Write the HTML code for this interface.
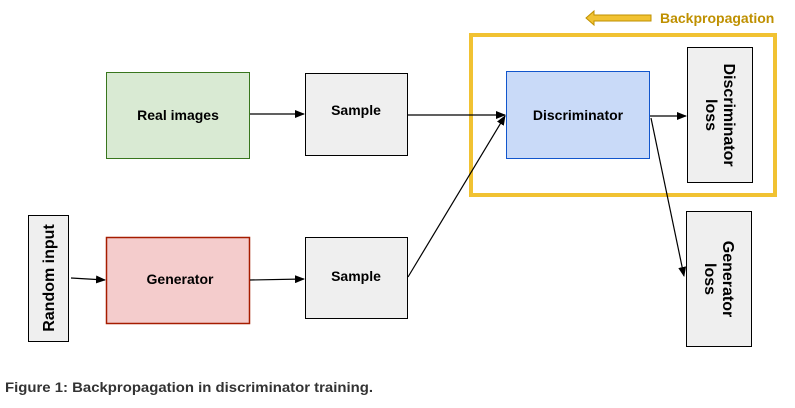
<!DOCTYPE html>
<html><head><style>
body{margin:0;width:795px;height:403px;background:#fff;overflow:hidden;font-family:"Liberation Sans",Arial,sans-serif}
</style></head><body>
<svg width="795" height="403" xmlns="http://www.w3.org/2000/svg" font-family="Liberation Sans, Arial, sans-serif" font-weight="bold">
<defs><marker id="a" markerWidth="10" markerHeight="8" refX="9" refY="4" orient="auto" markerUnits="userSpaceOnUse"><path d="M0,0 L10,4 L0,8 z" fill="#000"/></marker></defs>
<rect x="471" y="35" width="304" height="160" fill="none" stroke="#f1c232" stroke-width="4"/>
<path d="M586,18 L594,11 L594,15 L651,15 L651,21 L594,21 L594,25 z" fill="#f1c232" stroke="#bf9000" stroke-width="1"/>
<text x="660" y="23" font-size="14" fill="#bf9000">Backpropagation</text>
<rect x="106.5" y="72.5" width="143" height="86" fill="#d9ead3" stroke="#38761d"/>
<text x="178" y="120" font-size="14" text-anchor="middle">Real images</text>
<rect x="305.5" y="73.5" width="102" height="82" fill="#efefef" stroke="#000"/>
<text x="356" y="115" font-size="14" text-anchor="middle">Sample</text>
<rect x="506.5" y="71.5" width="143" height="87" fill="#c9daf8" stroke="#1155cc"/>
<text x="578" y="120" font-size="14" text-anchor="middle">Discriminator</text>
<rect x="687.5" y="47.5" width="65" height="135" fill="#efefef" stroke="#000"/>
<text transform="translate(720,115) rotate(90)" font-size="16" text-anchor="middle"><tspan x="0" dy="-4">Discriminator</tspan><tspan x="0" dy="18">loss</tspan></text>
<rect x="28.5" y="215.5" width="40" height="126" fill="#efefef" stroke="#000"/>
<text transform="translate(54,278) rotate(-90)" font-size="16" text-anchor="middle">Random input</text>
<rect x="106.5" y="237.5" width="143" height="86" fill="#f4cccc" stroke="#a61c00" stroke-width="1.5"/>
<text x="180" y="284" font-size="14" text-anchor="middle">Generator</text>
<rect x="305.5" y="237.5" width="102" height="81" fill="#efefef" stroke="#000"/>
<text x="356" y="281" font-size="14" text-anchor="middle">Sample</text>
<rect x="686.5" y="211.5" width="65" height="135" fill="#efefef" stroke="#000"/>
<text transform="translate(719,279) rotate(90)" font-size="16" text-anchor="middle"><tspan x="0" dy="-4">Generator</tspan><tspan x="0" dy="18">loss</tspan></text>
<g stroke="#000" stroke-width="1.2" fill="none" marker-end="url(#a)">
<line x1="250" y1="114" x2="304" y2="114"/>
<line x1="408" y1="115" x2="505" y2="115"/>
<line x1="408" y1="277" x2="505" y2="116"/>
<line x1="650" y1="116" x2="686" y2="116"/>
<line x1="651" y1="118" x2="684" y2="276"/>
<line x1="71" y1="278" x2="105" y2="280"/>
<line x1="250" y1="280" x2="304" y2="279"/>
</g>
<text x="5" y="392" font-size="14" fill="#333" font-weight="bold" textLength="368" lengthAdjust="spacingAndGlyphs">Figure 1: Backpropagation in discriminator training.</text>
</svg>
</body></html>
